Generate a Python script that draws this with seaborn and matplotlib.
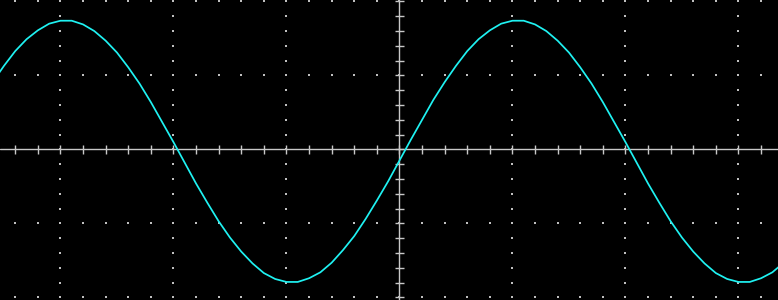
import numpy as np
import pandas as pd
import matplotlib
matplotlib.use("Agg")
import matplotlib.pyplot as plt
import seaborn as sns

# Time axis in screen divisions (every 0.1 div)
time_div = [-3.6, -3.5, -3.4, -3.3, -3.2, -3.1, -3.0, -2.9, -2.8, -2.7,
            -2.6, -2.5, -2.4, -2.3, -2.2, -2.1, -2.0, -1.9, -1.8, -1.7,
            -1.6, -1.5, -1.4, -1.3, -1.2, -1.1, -1.0, -0.9, -0.8, -0.7,
            -0.6, -0.5, -0.4, -0.3, -0.2, -0.1, 0.0, 0.1, 0.2, 0.3,
            0.4, 0.5, 0.6, 0.7, 0.8, 0.9, 1.0, 1.1, 1.2, 1.3,
            1.4, 1.5, 1.6, 1.7, 1.8, 1.9, 2.0, 2.1, 2.2, 2.3,
            2.4, 2.5, 2.6, 2.7, 2.8, 2.9, 3.0, 3.1, 3.2, 3.3, 3.4]
# Voltage in screen divisions
volt_div = [0.91, 1.13, 1.33, 1.49, 1.61, 1.70, 1.74, 1.74, 1.69, 1.60,
            1.47, 1.31, 1.11, 0.89, 0.64, 0.37, 0.10, -0.18, -0.46, -0.72,
            -0.97, -1.19, -1.38, -1.54, -1.67, -1.75, -1.79, -1.79, -1.74, -1.66,
            -1.53, -1.36, -1.17, -0.94, -0.69, -0.43, -0.15, 0.13, 0.40, 0.67,
            0.91, 1.13, 1.33, 1.49, 1.61, 1.70, 1.74, 1.74, 1.69, 1.60,
            1.47, 1.31, 1.11, 0.89, 0.64, 0.37, 0.10, -0.18, -0.46, -0.72,
            -0.97, -1.19, -1.38, -1.54, -1.67, -1.75, -1.79, -1.79, -1.74, -1.66,
            -1.53]

df = pd.DataFrame({"t": time_div, "v": volt_div})

sns.set_theme(style="dark")
fig = plt.figure(figsize=(7.78, 3.0), dpi=100)
ax = fig.add_axes([0, 0, 1, 1])
ax.set_facecolor("black")
fig.patch.set_facecolor("black")

XMIN, XMAX = -3.535, 3.350
YMIN, YMAX = -2.034, 2.020
grid_col = "#c8c8c8"

# Graticule: centre axes
ax.axhline(0, color=grid_col, lw=1.0, zorder=1)
ax.axvline(0, color=grid_col, lw=1.0, zorder=1)

# Minor ticks on the centre axes
xminor = np.round(np.arange(-3.4, 3.41, 0.2), 2)
yminor = np.round(np.arange(-2.0, 2.01, 0.2), 2)
ax.vlines(xminor, -0.055, 0.055, color=grid_col, lw=1.0, zorder=1)
ax.hlines(yminor, -0.04, 0.04, color=grid_col, lw=1.0, zorder=1)

# Dotted major grid lines
xmajor = [-3, -2, -1, 1, 2, 3]
ymajor = [-2, -1, 1, 2]
dots_x, dots_y = [], []
for xm in xmajor:
    for yv in yminor:
        dots_x.append(xm); dots_y.append(yv)
for ym in ymajor:
    for xv in xminor:
        dots_x.append(xv); dots_y.append(ym)
ax.scatter(dots_x, dots_y, s=0.8, marker="s", color="#c0c0c0",
           linewidths=0, zorder=1)

# Trace
sns.lineplot(data=df, x="t", y="v", ax=ax, color="#1ff2f2", lw=1.25,
             zorder=3, legend=False)

ax.set_xlim(XMIN, XMAX)
ax.set_ylim(YMIN, YMAX)
ax.set_xticks([]); ax.set_yticks([])
ax.set_xlabel(""); ax.set_ylabel("")
for s in ax.spines.values():
    s.set_visible(False)
ax.grid(False)

fig.savefig("out.png", dpi=100, facecolor="black")
